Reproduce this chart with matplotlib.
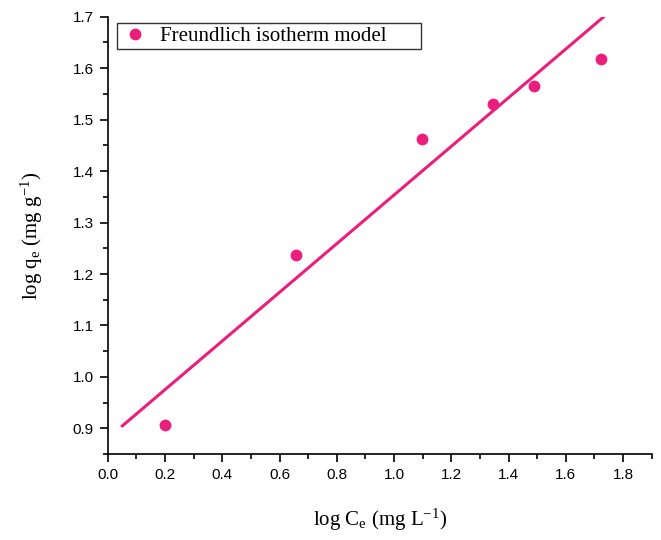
import matplotlib
matplotlib.use("Agg")
import matplotlib.pyplot as plt
from matplotlib.ticker import MultipleLocator

log_ce = [0.20, 0.656, 1.097, 1.344, 1.489, 1.723]
log_qe = [0.907, 1.237, 1.462, 1.530, 1.565, 1.618]

# linear fit, two end points
fit_x = [0.047, 1.76]
fit_y = [0.903, 1.713]

pink = "#EC1E7D"

plt.rcParams["mathtext.fontset"] = "custom"
plt.rcParams["mathtext.rm"] = "Liberation Serif"
plt.rcParams["mathtext.it"] = "Liberation Serif:italic"

fig = plt.figure(figsize=(6.61, 5.4), dpi=100)
ax = fig.add_axes([0.163, 0.159, 0.823, 0.81])

ax.plot(fit_x, fit_y, color=pink, lw=2.2, solid_capstyle="butt")
ax.plot(log_ce, log_qe, "o", color=pink, ms=8.5, mec="none",
        label="Freundlich isotherm model      ")

ax.set_xlim(0, 1.9)
ax.set_ylim(0.85, 1.7)
ax.xaxis.set_major_locator(MultipleLocator(0.2))
ax.xaxis.set_minor_locator(MultipleLocator(0.1))
ax.yaxis.set_major_locator(MultipleLocator(0.1))
ax.yaxis.set_minor_locator(MultipleLocator(0.05))

for side in ["top", "right"]:
    ax.spines[side].set_visible(False)
for side in ["left", "bottom"]:
    ax.spines[side].set_linewidth(1.2)

ax.tick_params(which="major", direction="out", length=6, width=1.2,
               labelsize=11, pad=4)
ax.tick_params(which="minor", direction="out", length=3.5, width=1.2)
for lab in ax.get_xticklabels() + ax.get_yticklabels():
    lab.set_family("Liberation Sans")

ax.set_xlabel(r"log C$_\mathrm{e}$ (mg L$^{-1}$)", family="Liberation Serif",
              fontsize=15, labelpad=18)
ax.set_ylabel(r"log q$_\mathrm{e}$ (mg g$^{-1}$)", family="Liberation Serif",
              fontsize=15, labelpad=20)

leg = ax.legend(loc="upper left", bbox_to_anchor=(0.017, 0.985),
                prop={"family": "Liberation Serif", "size": 15},
                frameon=True, fancybox=False, edgecolor="black",
                handletextpad=0.5, borderpad=0.15, handlelength=1.4,
                borderaxespad=0)
leg.get_frame().set_linewidth(1.0)

fig.savefig("out.png", dpi=100)
